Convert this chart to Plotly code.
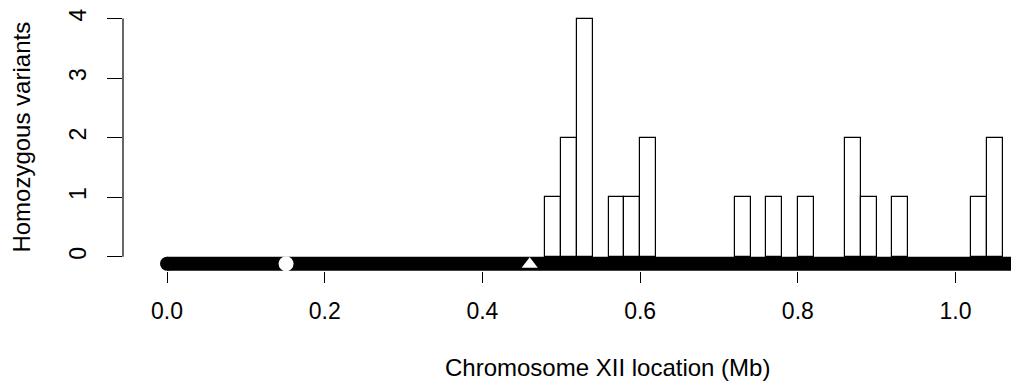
import plotly.graph_objects as go

# Histogram bins (Mb) of homozygous variants, width 0.02
bin_left = [0.48, 0.50, 0.52, 0.54, 0.56, 0.58, 0.60, 0.62, 0.64, 0.66, 0.68, 0.70,
            0.72, 0.74, 0.76, 0.78, 0.80, 0.82, 0.84, 0.86, 0.88, 0.90, 0.92, 0.94,
            0.96, 0.98, 1.00, 1.02, 1.04]
counts = [1, 2, 4, 0, 1, 1, 2, 0, 0, 0, 0, 0,
          1, 0, 1, 0, 1, 0, 0, 2, 1, 0, 1, 0,
          0, 0, 0, 1, 2]
bin_width = 0.02

# Chromosome XII ideogram
chrom_start = 0.0
chrom_end = 1.078
chrom_y = -0.117
centromere_x = 0.151
rdna_x = 0.46

x_ticks = [0.0, 0.2, 0.4, 0.6, 0.8, 1.0]
x_ticklabels = ["0.0", "0.2", "0.4", "0.6", "0.8", "1.0"]
y_ticks = [0, 1, 2, 3, 4]

FONT = "Liberation Sans, Arial, Helvetica, sans-serif"
FS = 23
FS_TITLE = 24
PAGE = 8  # default body margin of the html page

nz_x = [b for b, c in zip(bin_left, counts) if c > 0]
nz_c = [c for c in counts if c > 0]

fig = go.Figure()
fig.add_trace(go.Bar(
    x=nz_x, y=nz_c, width=bin_width, offset=0,
    marker=dict(color="white", line=dict(color="black", width=1.2)),
    showlegend=False, hoverinfo="skip",
))
fig.add_trace(go.Scatter(
    x=[chrom_start, chrom_end], y=[chrom_y, chrom_y], mode="lines+markers",
    line=dict(color="black", width=14),
    marker=dict(color="black", size=14, symbol="circle"),
    showlegend=False, hoverinfo="skip", cliponaxis=True,
))
fig.add_trace(go.Scatter(
    x=[centromere_x], y=[chrom_y], mode="markers",
    marker=dict(color="white", size=15, symbol="circle", line=dict(width=0)),
    showlegend=False, hoverinfo="skip", cliponaxis=False,
))
fig.add_trace(go.Scatter(
    x=[rdna_x], y=[chrom_y - 0.01], mode="markers",
    marker=dict(color="white", size=14, symbol="triangle-up", line=dict(width=0)),
    showlegend=False, hoverinfo="skip", cliponaxis=False,
))

# y axis line spanning 0..4 only (R style)
fig.add_shape(type="line", xref="paper", yref="y", x0=0, x1=0, y0=0, y1=4,
              line=dict(color="black", width=1.2))

fig.update_layout(
    width=1019 - PAGE, height=383 - PAGE,
    margin=dict(l=123 - PAGE, r=0, t=9 - PAGE, b=112),
    plot_bgcolor="white", paper_bgcolor="white",
    bargap=0,
    font=dict(family=FONT, size=FS, color="black"),
    xaxis=dict(
        range=[-0.0558, 1.0805], showgrid=False, zeroline=False, showline=False,
        tickmode="array", tickvals=x_ticks, ticktext=x_ticklabels,
        ticks="outside", ticklen=11, tickwidth=1.2, tickcolor="black",
        ticklabelstandoff=8,
        tickfont=dict(family=FONT, size=FS, color="black"),
    ),
    yaxis=dict(
        range=[-0.24, 4.16], showgrid=False, zeroline=False, showline=False,
        tickmode="array", tickvals=y_ticks, ticktext=[str(v) for v in y_ticks],
        ticks="outside", ticklen=15, tickwidth=1.2, tickcolor="black",
        tickangle=-90, ticklabelstandoff=12,
        tickfont=dict(family=FONT, size=FS, color="black"),
    ),
    annotations=[
        dict(text="Chromosome XII location (Mb)", xref="x", yref="paper",
             x=0.558, y=0, yshift=-96, xanchor="center", yanchor="middle",
             showarrow=False, font=dict(family=FONT, size=FS_TITLE, color="black")),
        dict(text="Homozygous variants", xref="paper", yref="y",
             x=0, xshift=-101, y=2, xanchor="center", yanchor="middle",
             textangle=-90, showarrow=False,
             font=dict(family=FONT, size=FS_TITLE, color="black")),
    ],
)

fig.write_html("out.html")
